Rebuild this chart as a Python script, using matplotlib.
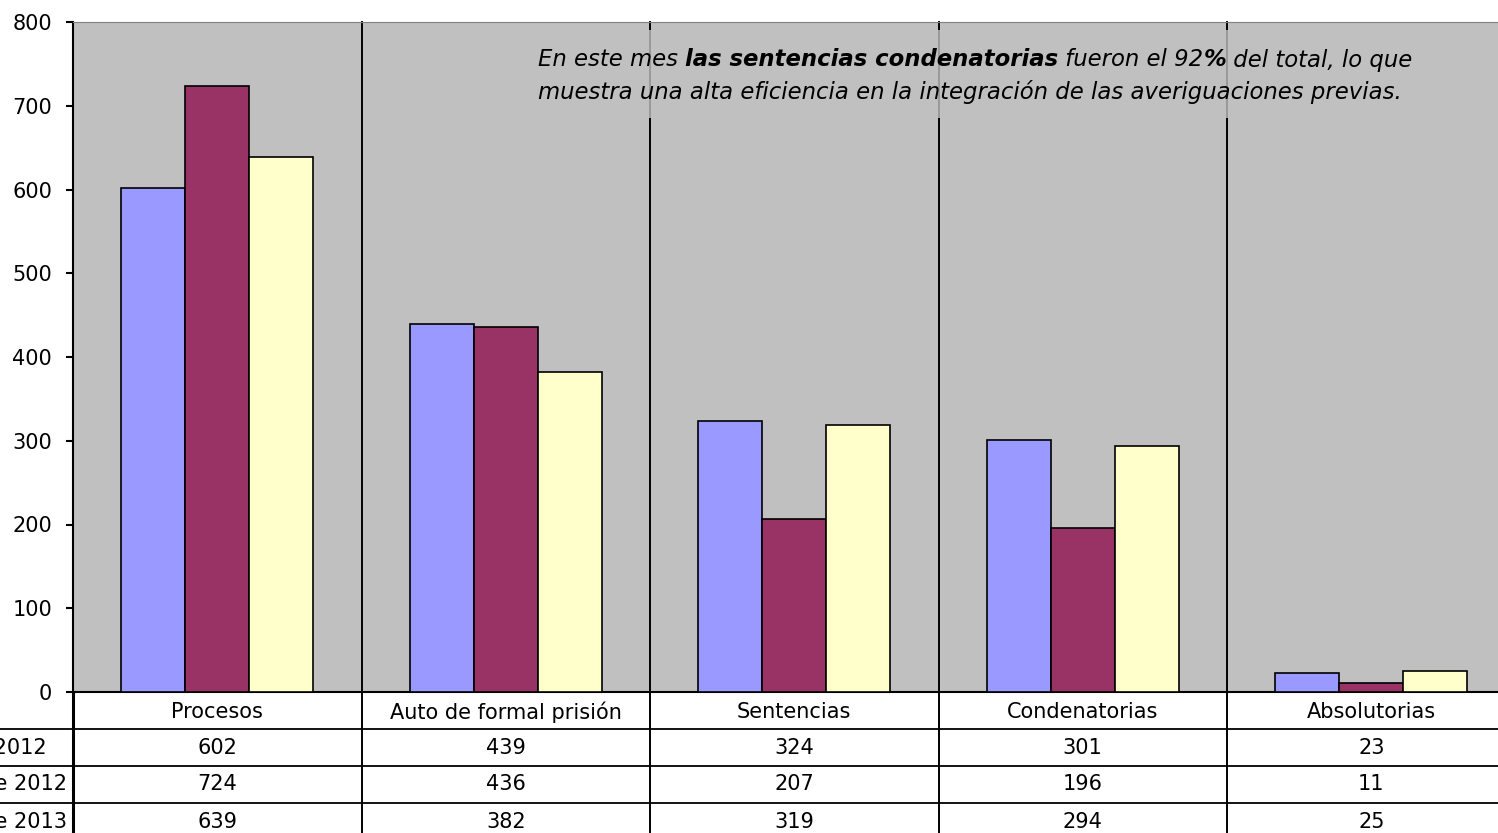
import matplotlib
matplotlib.use("Agg")
import matplotlib.pyplot as plt
import matplotlib.transforms as mtransforms
from matplotlib.patches import Rectangle
import numpy as np

plt.rcParams['font.family'] = ['DejaVu Sans']

categories = ['Procesos', 'Auto de formal prisión', 'Sentencias', 'Condenatorias', 'Absolutorias']
series_names = ['Promedio 2012', 'Diciembre de 2012', 'Diciembre de 2013']
s1 = [602, 439, 324, 301, 23]
s2 = [724, 436, 207, 196, 11]
s3 = [639, 382, 319, 294, 25]
series = [s1, s2, s3]
colors = ['#9999ff', '#993366', '#ffffcc']

W, H = 1498, 833
fig = plt.figure(figsize=(W / 100, H / 100), dpi=100)

def fx(x):
    return x / W

def fy(y):
    return 1 - y / H

ax = fig.add_axes([fx(73), fy(692), 1442.5 / W, (692 - 22) / H])
ax.set_facecolor('#c0c0c0')

x = np.arange(len(categories))
bw = 0.222
for i, (vals, c) in enumerate(zip(series, colors)):
    ax.bar(x + (i - 1) * bw, vals, bw, color=c, edgecolor='black', linewidth=1.2, zorder=3)

ax.set_xlim(-0.5, len(categories) - 0.5)
ax.set_ylim(0, 800)
ax.set_yticks(range(0, 801, 100))
ax.set_xticks([])
ax.tick_params(axis='y', direction='out', length=5, width=1.5, pad=10, labelsize=15)
ax.spines['left'].set_linewidth(1.5)
ax.spines['bottom'].set_linewidth(1.5)
ax.spines['top'].set_color('#808080')
ax.spines['right'].set_visible(False)

# column separators running through plot and table
trans = mtransforms.blended_transform_factory(ax.transData, fig.transFigure)
for k in range(len(categories) - 1):
    ax.plot([k + 0.5, k + 0.5], [fy(22), 0], transform=trans, color='black',
            lw=1.4, clip_on=False, zorder=2)
ax.plot([-0.5, -0.5], [fy(692), 0], transform=trans, color='black', lw=2.2, clip_on=False, zorder=4)

# data table
row_edges = [692, 729, 766, 803, 840]
for y in row_edges[1:4]:
    fig.add_artist(plt.Line2D([0, 1], [fy(y), fy(y)], color='black', lw=1.3))
for k, cat in enumerate(categories):
    ax.text(k, fy((row_edges[0] + row_edges[1]) / 2 + 1.5), cat, transform=trans,
            ha='center', va='center', fontsize=15)
    for r, vals in enumerate(series):
        ax.text(k, fy((row_edges[r + 1] + row_edges[r + 2]) / 2), str(vals[k]),
                transform=trans, ha='center', va='center', fontsize=15)

renderer = fig.canvas.get_renderer()
labels = []
for r, name in enumerate(series_names):
    labels.append(fig.text(0, fy((row_edges[r + 1] + row_edges[r + 2]) / 2), name,
                           ha='center', va='center', fontsize=15))
maxw = max(t.get_window_extent(renderer).width for t in labels)
for t in labels:
    t.set_x(fx(67 - maxw / 2))

# annotation box
fig.add_artist(Rectangle((fx(530), fy(118)), fx(1432 - 530), (118 - 30) / H,
                         transform=fig.transFigure, facecolor='#c0c0c0', alpha=0.8,
                         edgecolor='none', zorder=5))

pieces = [("En este mes ", 'normal'), ("las sentencias condenatorias", 'bold'),
          (" fueron el 92", 'normal'), ("%", 'bold'), (" del total, lo que", 'normal')]
xpos = fx(538)
for txt, wt in pieces:
    t = fig.text(xpos, fy(60), txt, fontsize=16.4, style='italic', weight=wt,
                 ha='left', va='center', zorder=6)
    bb = t.get_window_extent(renderer)
    xpos += bb.width / W
fig.text(fx(538), fy(92), "muestra una alta eficiencia en la integración de las averiguaciones previas.",
         fontsize=16.4, style='italic', ha='left', va='center', zorder=6)

fig.savefig('out.png', dpi=100)
